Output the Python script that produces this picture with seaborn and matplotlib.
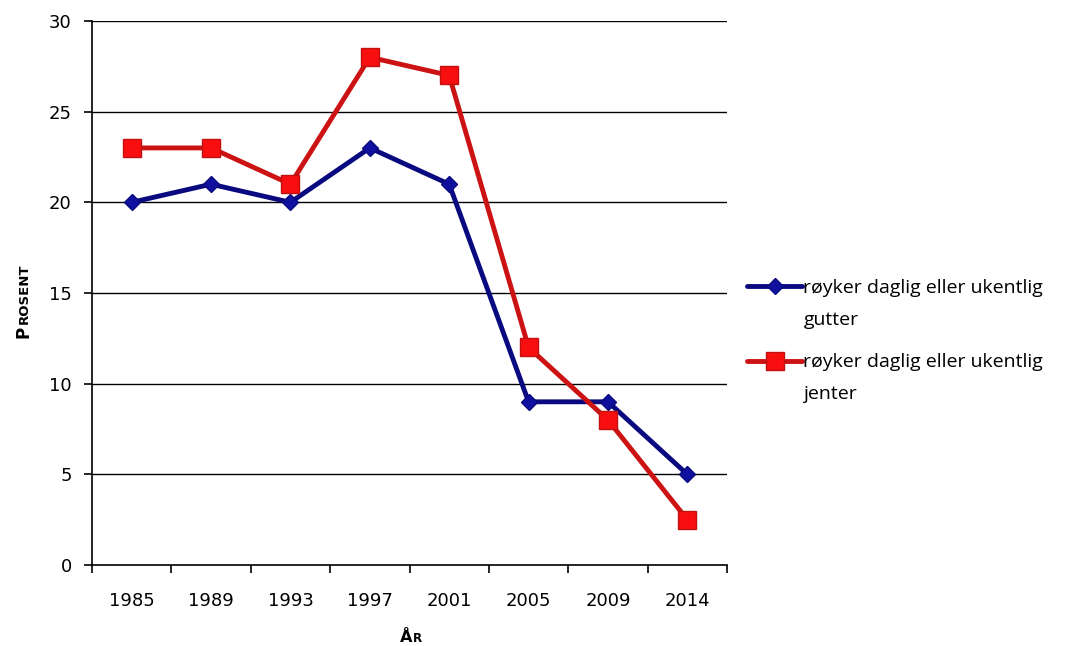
import matplotlib
matplotlib.use("Agg")
import matplotlib.pyplot as plt
import seaborn as sns
import pandas as pd

# Survey years and share (%) who smoke daily or weekly
years = ["1985", "1989", "1993", "1997", "2001", "2005", "2009", "2014"]
gutter = [20, 21, 20, 23, 21, 9, 9, 5]
jenter = [23, 23, 21, 28, 27, 12, 8, 2.5]
series_labels = ["røyker daglig eller ukentlig\ngutter",
                 "røyker daglig eller ukentlig\njenter"]
y_ticks = [0, 5, 10, 15, 20, 25, 30]

sns.set_theme(style="white")
plt.rcParams["font.family"] = ["DejaVu Sans"]

W, H = 1082, 646
fig = plt.figure(figsize=(W / 100, H / 100), dpi=100)
ax = fig.add_axes([92 / W, 81 / H, 635 / W, 544 / H])

df = pd.DataFrame({"year": years, "gutter": gutter, "jenter": jenter})

# horizontal gridlines behind the series
for v in y_ticks[1:]:
    ax.axhline(v, color="black", lw=1.0, zorder=0)

sns.lineplot(data=df, x="year", y="gutter", ax=ax, color="#0A0A80", lw=3.5,
             marker="D", markersize=8.5, markerfacecolor="#10109E",
             markeredgecolor="#0A0A80", markeredgewidth=1,
             label=series_labels[0].split("\n")[0], sort=False, zorder=3)
sns.lineplot(data=df, x="year", y="jenter", ax=ax, color="#CC1212", lw=3.5,
             marker="s", markersize=12.5, markerfacecolor="#F80E0E",
             markeredgecolor="#C01010", markeredgewidth=1,
             label=series_labels[1].split("\n")[0], sort=False, zorder=4)

ax.set_xlim(-0.5, len(years) - 0.5)
ax.set_ylim(0, 30)
ax.set_yticks(y_ticks)
ax.set_xticks(range(len(years)))
ax.set_xticklabels(years)
ax.set_xticks([i - 0.5 for i in range(len(years) + 1)], minor=True)

for s in ["top", "right"]:
    ax.spines[s].set_visible(False)
for s in ["left", "bottom"]:
    ax.spines[s].set_color("black")
    ax.spines[s].set_linewidth(1.2)

ax.tick_params(axis="x", which="major", length=0, pad=19.5, labelsize=13,
               labelcolor="black")
ax.tick_params(axis="x", which="minor", bottom=True, length=5.5, width=1.2,
               direction="out", color="black")
ax.tick_params(axis="y", left=True, length=5.5, width=1.2, direction="out",
               color="black", pad=9, labelsize=13, labelcolor="black")

ax.set_xlabel("")
ax.set_ylabel("")

# small-caps style axis titles
bold = dict(fontweight="bold", color="black", rotation_mode="anchor",
            ha="left", va="baseline")
fig.text(400 / W, 1 - 642 / H, "Å", fontsize=11.5, **bold)
fig.text(412.5 / W, 1 - 642 / H, "R", fontsize=8.5, **bold)
fig.text(28 / W, 1 - 338 / H, "P", fontsize=12, rotation=90, **bold)
fig.text(28 / W, 1 - 324 / H, "ROSENT", fontsize=9.5, rotation=90, **bold)

leg_font = {"family": "Open Sans", "size": 14}
leg = ax.legend(loc="upper left", bbox_to_anchor=(747 / W, 1 - 279 / H),
                bbox_transform=fig.transFigure, frameon=False,
                prop=leg_font, handlelength=2.85, handletextpad=0.05,
                labelspacing=2.9, borderaxespad=0, borderpad=0)
for t in leg.get_texts():
    t.set_color("black")

# second line of each legend label, set beneath its first line
fig.canvas.draw()
inv = fig.transFigure.inverted()
for txt, lab in zip(leg.get_texts(), series_labels):
    bb = txt.get_window_extent()
    x0, y1 = inv.transform((bb.x0, bb.y1))
    fig.text(x0, y1 - 32 / H, lab.split("\n")[1], fontdict=leg_font,
             ha="left", va="top", color="black")

fig.savefig("out.png", dpi=100, facecolor="white")
